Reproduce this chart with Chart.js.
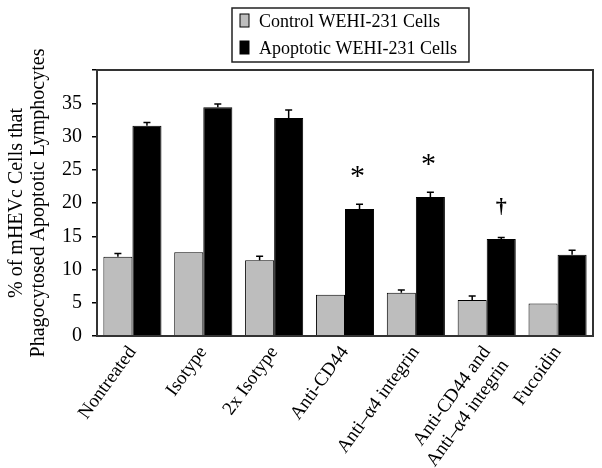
<!DOCTYPE html>
<html>
<head>
<meta charset="utf-8">
<script src="https://cdn.jsdelivr.net/npm/chart.js@4"></script>
<style>
  html, body { margin: 0; padding: 0; background: #fff; }
  #wrap { width: 602px; height: 468px; }
</style>
</head>
<body>
<div id="wrap"><canvas id="chart"></canvas></div>
<script>
const categories = [
  "Nontreated", "Isotype", "2x Isotype", "Anti-CD44", "Anti\u2013\u03b14 integrin",
  ["Anti-CD44 and", "Anti\u2013\u03b14 integrin"], "Fucoidin",
];
const seriesNames = ["Control WEHI-231 Cells", "Apoptotic WEHI-231 Cells"];
const controlValues = [11.9, 12.6, 11.4, 6.2, 6.5, 5.4, 4.9];
const controlErrors = [0.5, 0, 0.6, 0, 0.4, 0.6, 0];
const apoptoticValues = [31.6, 34.4, 32.8, 19.1, 20.9, 14.6, 12.2];
const apoptoticErrors = [0.5, 0.5, 1.2, 0.7, 0.7, 0.2, 0.7];
const significance = ["", "", "", "*", "*", "\u2020", ""];
const yTicks = [0, 5, 10, 15, 20, 25, 30, 35];

const serif = "'Liberation Serif', 'DejaVu Serif', serif";

// Helpers
const getById = (id) => document.getElementById(id);

// error bars: upward only, with a small cap
const errorBars = {
  id: "errorBars",
  afterDatasetsDraw(chart) {
    const { ctx, scales: { y } } = chart;
    ctx.save();
    ctx.strokeStyle = "#000";
    ctx.lineWidth = 1.5;
    chart.data.datasets.forEach((ds, i) => {
      chart.getDatasetMeta(i).data.forEach((bar, j) => {
        const err = ds.errors[j];
        if (!err) return;
        const top = y.getPixelForValue(ds.data[j] + err);
        ctx.beginPath();
        ctx.moveTo(bar.x, bar.y);
        ctx.lineTo(bar.x, top);
        ctx.moveTo(bar.x - 3.5, top);
        ctx.lineTo(bar.x + 3.5, top);
        ctx.stroke();
      });
    });
    ctx.restore();
  },
};

// * and dagger above the apoptotic bars
const markers = {
  id: "markers",
  afterDatasetsDraw(chart) {
    const { ctx, scales: { y } } = chart;
    const ds = chart.data.datasets[1];
    const meta = chart.getDatasetMeta(1);
    ctx.save();
    ctx.fillStyle = "#000";
    ctx.textAlign = "center";
    ctx.textBaseline = "middle";
    significance.forEach((mark, j) => {
      if (!mark) return;
      const top = y.getPixelForValue(ds.data[j] + ds.errors[j]);
      if (mark === "*") {
        ctx.font = "30px " + serif;
        ctx.fillText(mark, meta.data[j].x - 2, top - 27);
      } else {
        ctx.font = "bold 22px " + serif;
        ctx.fillText(mark, meta.data[j].x, top - 30);
      }
    });
    ctx.restore();
  },
};

// box round the plot and the boxed legend above it
const frameAndLegend = {
  id: "frameAndLegend",
  afterDraw(chart) {
    const { ctx, chartArea: a } = chart;
    ctx.save();
    ctx.strokeStyle = "#333";
    ctx.lineWidth = 2;
    ctx.strokeRect(a.left, a.top, a.right - a.left, a.bottom - a.top);

    ctx.font = "18px " + serif;
    const textW = Math.max(...seriesNames.map(t => ctx.measureText(t).width));
    const w = 8 + 9 + 10 + textW + 12;
    const h = 54;
    const left = Math.round((a.left + a.right) / 2 + 5 - w / 2);
    const top = 8;
    ctx.lineWidth = 1.5;
    ctx.strokeStyle = "#222";
    ctx.strokeRect(left, top, w, h);
    ctx.textBaseline = "middle";
    ctx.textAlign = "left";
    chart.data.datasets.forEach((ds, i) => {
      const cy = top + 13 + i * 27;
      ctx.fillStyle = ds.backgroundColor;
      ctx.fillRect(left + 8, cy - 7, 9, 13);
      ctx.lineWidth = 1;
      ctx.strokeStyle = "#000";
      ctx.strokeRect(left + 8, cy - 7, 9, 13);
      ctx.fillStyle = "#000";
      ctx.fillText(ds.label, left + 27, cy + 1);
    });
    ctx.restore();
  },
};

new Chart(getById("chart").getContext("2d"), {
  type: "bar",
  data: {
    labels: categories,
    datasets: [
      {
        label: seriesNames[0],
        data: controlValues,
        errors: controlErrors,
        backgroundColor: "#bdbdbd",
        borderColor: "#000",
        borderWidth: 1,
        borderSkipped: "bottom",
      },
      {
        label: seriesNames[1],
        data: apoptoticValues,
        errors: apoptoticErrors,
        backgroundColor: "#000",
        borderColor: "#000",
        borderWidth: 1,
        borderSkipped: "bottom",
      },
    ],
  },
  options: {
    responsive: true,
    maintainAspectRatio: false,
    animation: false,
    layout: { padding: { top: 70, right: 9, left: 0, bottom: 0 } },
    categoryPercentage: 0.82,
    barPercentage: 1,
    plugins: {
      legend: { display: false },
      tooltip: { enabled: false },
    },
    scales: {
      x: {
        grid: { display: false, drawTicks: false },
        border: { color: "#000", width: 2 },
        ticks: {
          color: "#000",
          font: { family: serif, size: 19 },
          minRotation: 54,
          maxRotation: 54,
          padding: 6,
          autoSkip: false,
        },
        afterFit: (scale) => { scale.height = 132; },
      },
      y: {
        min: 0,
        max: 40,
        afterBuildTicks: (scale) => {
          scale.ticks = yTicks.concat([40]).map(v => ({ value: v }));
        },
        grid: {
          drawOnChartArea: false,
          tickLength: 5,
          color: "#000",
          lineWidth: 1.5,
        },
        border: { color: "#000", width: 2 },
        ticks: {
          color: "#000",
          font: { family: serif, size: 20 },
          padding: 10,
          callback: (v) => (yTicks.includes(v) ? v : ""),
        },
        title: {
          display: true,
          text: ["% of mHEVc Cells that", "Phagocytosed Apoptotic Lymphocytes"],
          color: "#000",
          font: { family: serif, size: 20, lineHeight: 1.1 },
          padding: { top: 6, bottom: 0 },
        },
        afterFit: (scale) => { scale.width = 97; },
      },
    },
  },
  plugins: [errorBars, markers, frameAndLegend],
});
</script>
</body>
</html>
